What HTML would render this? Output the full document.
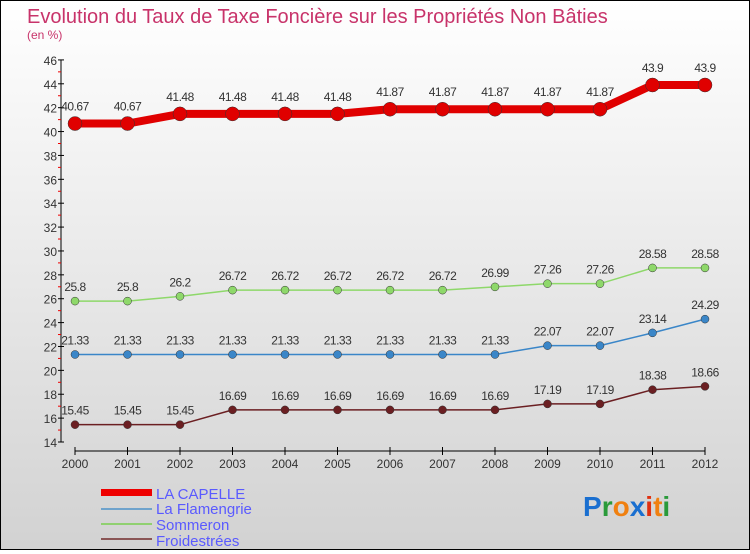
<!DOCTYPE html>
<html><head><meta charset="utf-8"><style>
body{margin:0;width:750px;height:550px;overflow:hidden}
#c{width:748px;height:548px;border:1px solid #000;background:linear-gradient(#fff,#d2d2d2);position:relative}
svg text{font-family:"Liberation Sans",sans-serif}
</style></head><body>
<div id="c">
<svg id="s" width="748" height="548" xmlns="http://www.w3.org/2000/svg">
<text x="26" y="22" font-size="20" fill="#c8336a">Evolution du Taux de Taxe Foncière sur les Propriétés Non Bâties</text>
<text x="26" y="38" font-size="12" fill="#c8336a">(en %)</text>
<g id="axes"></g><g id="series"></g>
<g>
<rect x="100" y="488" width="51" height="7" fill="#e00"/>
<text x="155" y="498" font-size="15" fill="#5a5aff">LA CAPELLE</text>
<rect x="100" y="507" width="51" height="2" fill="#6fa3cc"/>
<text x="155" y="513" font-size="15" fill="#5a5aff">La Flamengrie</text>
<rect x="100" y="522" width="51" height="2" fill="#90d070"/>
<text x="155" y="529" font-size="15" fill="#5a5aff">Sommeron</text>
<rect x="100" y="537" width="51" height="2" fill="#8a5555"/>
<text x="155" y="545" font-size="15" fill="#5a5aff">Froidestrées</text>
</g>
<g font-size="28" font-weight="bold">
<text x="582" y="515"><tspan fill="#1a6fd0">P</tspan><tspan fill="#2a9a3a">r</tspan><tspan fill="#f08010">o</tspan><tspan fill="#1a6fd0">x</tspan><tspan fill="#e03010">i</tspan><tspan fill="#f08010">t</tspan><tspan fill="#2a9a3a">i</tspan></text>
</g>
</svg></div>
<script>
const years=[2000,2001,2002,2003,2004,2005,2006,2007,2008,2009,2010,2011,2012];
const laCapelle=[40.67,40.67,41.48,41.48,41.48,41.48,41.87,41.87,41.87,41.87,41.87,43.9,43.9];
const laFlamengrie=[21.33,21.33,21.33,21.33,21.33,21.33,21.33,21.33,21.33,22.07,22.07,23.14,24.29];
const sommeron=[25.8,25.8,26.2,26.72,26.72,26.72,26.72,26.72,26.99,27.26,27.26,28.58,28.58];
const froidestrees=[15.45,15.45,15.45,16.69,16.69,16.69,16.69,16.69,16.69,17.19,17.19,18.38,18.66];
const yTicks=[14,16,18,20,22,24,26,28,30,32,34,36,38,40,42,44,46];
const NS="http://www.w3.org/2000/svg";
const X=i=>74+i*52.5, Y=v=>441-(v-14)*11.94;
function mk(t,a,p){const e=document.createElementNS(NS,t);for(const k in a)e.setAttribute(k,a[k]);p.appendChild(e);return e;}
const ax=document.getElementById('axes');
mk('line',{x1:60,y1:Y(46),x2:60,y2:Y(14),stroke:'#000'},ax);
mk('line',{x1:74,y1:450,x2:X(12),y2:450,stroke:'#000'},ax);
yTicks.forEach(v=>{
 mk('line',{x1:57,y1:Y(v),x2:63,y2:Y(v),stroke:'#000'},ax);
 if(v<46)mk('line',{x1:57,y1:Y(v+1),x2:60,y2:Y(v+1),stroke:'#e00'},ax);
 const t=mk('text',{x:56,y:Y(v)+5,'font-size':12,fill:'#333','text-anchor':'end'},ax);t.textContent=v;
 
 
});
years.forEach((y,i)=>{
 mk('line',{x1:X(i),y1:446,x2:X(i),y2:454,stroke:'#000'},ax);
 const t=mk('text',{x:X(i),y:467,'font-size':12,fill:'#333','text-anchor':'middle'},ax);t.textContent=y;
 
 
});
const sg=document.getElementById('series');
function draw(vals,color,w,r,name){
 const g=mk('g',{},sg);
 
 
 const pl=mk('polyline',{points:vals.map((v,i)=>X(i)+','+Y(v)).join(' '),fill:'none',stroke:color,'stroke-width':w,'stroke-linejoin':'round'},g);
 
 
 vals.forEach((v,i)=>{
  const c=mk('circle',{cx:X(i),cy:Y(v),r:r,fill:color,stroke:'#333','stroke-width':0.5},g);
  
  
  const t=mk('text',{x:X(i),y:Y(v)-(r+6),'font-size':12,fill:'#333','text-anchor':'middle','letter-spacing':'-0.5'},g);
  t.textContent=v;
  
  
 });
}
draw(froidestrees,'#6b1f22',1.5,4,'froidestrees');
draw(laFlamengrie,'#3a86c8',1.5,4,'la-flamengrie');
draw(sommeron,'#8ed86a',1.5,4,'sommeron');
draw(laCapelle,'#e00000',8,7,'la-capelle');
</script>
</body></html>
